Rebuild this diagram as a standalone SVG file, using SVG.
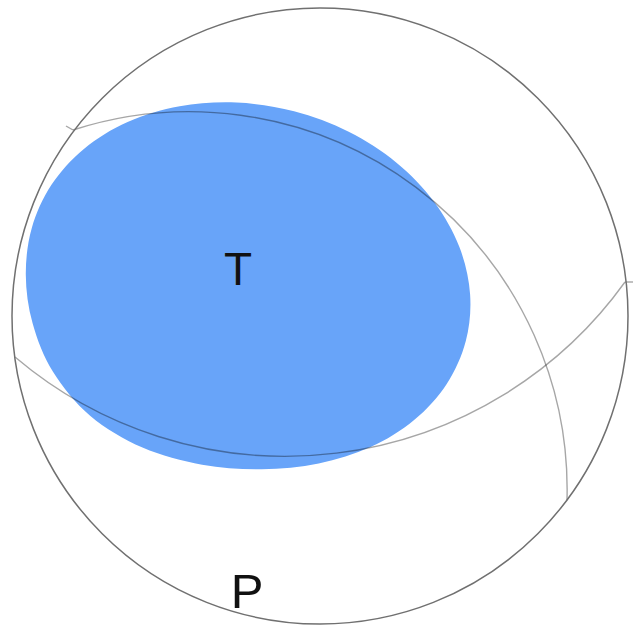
<svg xmlns="http://www.w3.org/2000/svg" width="633" height="625" viewBox="0 0 633 625">
  <style>
    .lbl { font-family: "Liberation Sans", Arial, sans-serif; fill: #111; text-anchor: middle; }
    .plane { fill: none; stroke: #000; stroke-opacity: 0.35; stroke-width: 1.4; }
    .rim { fill: none; stroke: #707070; stroke-width: 1.5; }
  </style>
  <rect width="633" height="625" fill="#ffffff"/>
  <g id="t-quadrant">
    <path fill="#68a4f9" d="M465.8,341 C461.9,355.9 455.3,370.7 446.7,383.9 C438.1,397.1 426.8,409.5 414.1,420 C401.4,430.5 386.4,439.9 370.5,447.1 C354.6,454.4 336.8,459.8 318.7,463.5 C300.6,467.2 281.1,469 261.7,469.2 C242.3,469.4 222,468.3 202.1,464.7 C182.2,461.1 161.2,455.8 142.5,447.6 C123.8,439.4 105,428.3 90.1,415.7 C75.2,403.1 62.6,387.2 53,371.8 C43.4,356.4 37.1,339.5 32.6,323.3 C28.1,307.1 25.9,290.6 25.8,274.7 C25.7,258.8 27.6,242.8 31.8,227.9 C36.1,213 42.6,198.3 51.3,185.1 C60,172 71.2,159.5 83.9,149 C96.6,138.5 111.6,129.2 127.6,122.1 C143.6,115 161.6,109.6 179.7,106.3 C197.9,103.1 217.4,101.8 236.5,102.6 C255.6,103.4 275.4,106.4 294.1,111.3 C312.8,116.2 331.6,123.2 348.7,131.8 C365.8,140.4 382.3,151 396.5,162.7 C410.8,174.4 423.7,187.9 434.2,201.9 C444.7,215.9 453.3,231.4 459.3,246.8 C465.3,262.2 469,278.6 470.1,294.3 C471.2,310 469.7,326.1 465.8,341 Z"/>
  </g>
  <g id="connectors">
    <path class="plane" d="M73,130 A378,378 0 0 1 567,500"/>
    <path class="plane" d="M15,357 A418,418 0 0 0 625,282"/>
    <path class="plane" d="M625,282 L633,282"/>
    <path class="plane" d="M73,130 L66,126"/>
  </g>
  <g id="outer-circle">
    <circle class="rim" cx="320" cy="316" r="308"/>
  </g>
  <g id="label-T">
    <text class="lbl" x="238" y="285" font-size="46">T</text>
  </g>
  <g id="label-P">
    <text class="lbl" x="247" y="608" font-size="49">P</text>
  </g>
</svg>
